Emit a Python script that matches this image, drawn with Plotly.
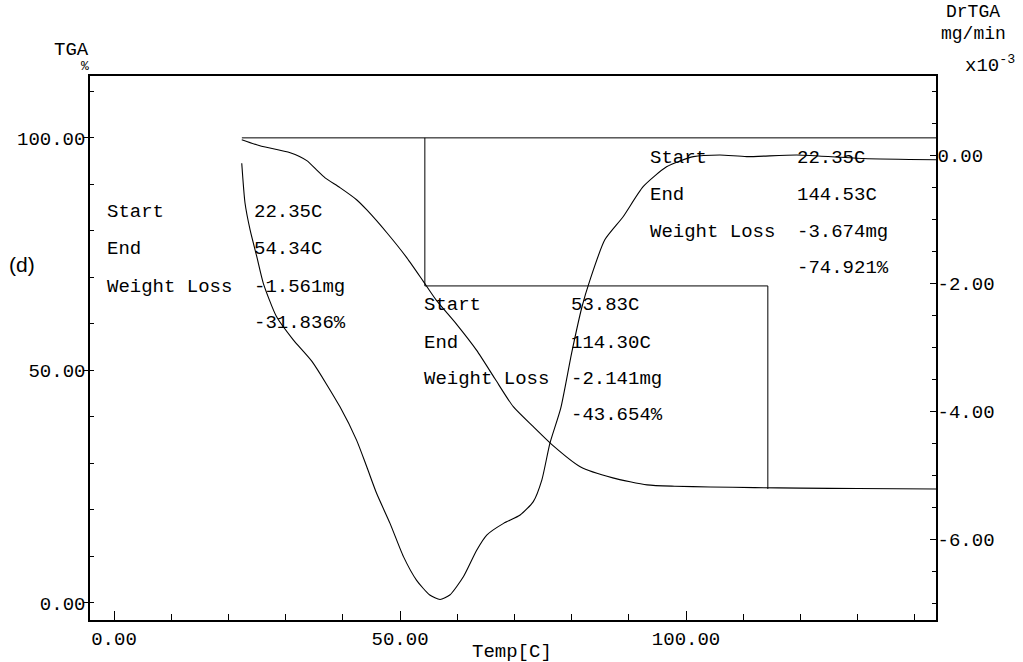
import plotly.graph_objects as go

# ---- thermogravimetric trace (TGA, % of initial mass) ----
tga_temp = [22.33, 25.5, 30.8, 33.7, 35.4, 36.9, 39.5, 42.4, 44.2, 47.7, 51.2, 54.1,
            56.4, 59.9, 63.4, 66.6, 69.8, 73.3, 76.6, 81.5, 87.2, 93.2, 98.0, 104.2,
            112.0, 120.0, 130.0, 143.7]
tga_pct = [99.6, 98.3, 96.8, 95.1, 93.1, 91.4, 89.3, 86.7, 84.5, 79.6, 74.2, 69.1,
           65.0, 59.9, 54.3, 48.2, 42.2, 37.9, 34.0, 29.3, 26.9, 25.4, 25.1, 24.95,
           24.8, 24.7, 24.6, 24.5]

# ---- derivative trace (DrTGA, mg/min x10^-3) ----
dr_temp = [22.33, 22.9, 23.8, 24.95, 26.1, 28.4, 31.3, 34.6, 39.5, 42.4, 44.2, 45.9,
           48.25, 50.6, 52.9, 55.2, 57.0, 58.7, 61.1, 63.4, 65.2, 68.1, 71.0, 73.3,
           74.8, 76.2, 78.1, 80.0, 81.8, 83.2, 85.8, 89.0, 92.5, 96.6, 101.3, 105.9,
           110.6, 119.4, 131.0, 143.7]
dr_val = [-0.125, -0.745, -1.17, -1.58, -2.0, -2.52, -2.88, -3.22, -3.93, -4.45, -4.87,
          -5.28, -5.75, -6.27, -6.64, -6.87, -6.94, -6.87, -6.58, -6.17, -5.93, -5.75,
          -5.62, -5.41, -5.07, -4.5, -3.95, -3.09, -2.37, -1.95, -1.32, -0.96, -0.49,
          -0.18, -0.02, 0.005, -0.02, 0.005, -0.05, -0.07]

# ---- weight-loss steps ----
step1_start, step1_end, step1_loss_mg, step1_loss_pct = 22.35, 54.34, -1.561, -31.836
step2_start, step2_end, step2_loss_mg, step2_loss_pct = 53.83, 114.30, -2.141, -43.654
total_start, total_end, total_loss_mg, total_loss_pct = 22.35, 144.53, -3.674, -74.921

# axis ticks
x_ticks = [0, 50, 100]
x_tick_text = ["0.00", "50.00", "100.00"]
y_ticks = [0, 50, 100]
y_tick_text = ["0.00", "50.00", "100.00"]
y2_ticks = [0, -2, -4, -6]
y2_tick_text = ["0.00", "-2.00", "-4.00", "-6.00"]

X_RANGE = [-4.2, 143.7]
Y_RANGE = [-3.66, 113.3]
Y2_RANGE = [-7.26, 1.239]

MONO = "Liberation Mono, Courier New, monospace"
FS = 19
INK = "#000000"

level0 = 100.0
level1 = level0 + step1_loss_pct
level2 = level1 + step2_loss_pct

fig = go.Figure()

# step construction lines
fig.add_trace(go.Scatter(
    x=[step1_start, total_end, None, step1_end, step1_end, step2_end, step2_end],
    y=[level0, level0, None, level0, level1, level1, level2],
    mode="lines", line=dict(color=INK, width=1), hoverinfo="skip",
    showlegend=False, cliponaxis=True,
))

fig.add_trace(go.Scatter(
    x=tga_temp, y=tga_pct, mode="lines",
    line=dict(color=INK, width=1.1, shape="spline", smoothing=0.6),
    showlegend=False, name="TGA",
))

fig.add_trace(go.Scatter(
    x=dr_temp, y=dr_val, mode="lines", yaxis="y2",
    line=dict(color=INK, width=1.1, shape="spline", smoothing=0.6),
    showlegend=False, name="DrTGA",
))

# result tables: (label column x, value column x, row y positions)
blocks = [
    (-1.6, 24.07, [84.15, 76.13, 68.02, 60.2],
     [f"{step1_start:.2f}C", f"{step1_end:.2f}C", f"{step1_loss_mg:.3f}mg", f"{step1_loss_pct:.3f}%"]),
    (53.8, 79.6, [64.09, 55.98, 48.17, 40.43],
     [f"{step2_start:.2f}C", f"{step2_end:.2f}C", f"{step2_loss_mg:.3f}mg", f"{step2_loss_pct:.3f}%"]),
    (93.4, 119.06, [95.63, 87.74, 79.85, 71.98],
     [f"{total_start:.2f}C", f"{total_end:.2f}C", f"{total_loss_mg:.3f}mg", f"{total_loss_pct:.3f}%"]),
]
row_labels = ["Start", "End", "Weight Loss", ""]

annotations = []
for lx, vx, ys, vals in blocks:
    for lab, val, yy in zip(row_labels, vals, ys):
        if lab:
            annotations.append(dict(x=lx, y=yy, xref="x", yref="y", text=lab,
                                    showarrow=False, xanchor="left", yanchor="middle",
                                    font=dict(family=MONO, size=FS, color=INK)))
        annotations.append(dict(x=vx, y=yy, xref="x", yref="y", text=val,
                                showarrow=False, xanchor="left", yanchor="middle",
                                font=dict(family=MONO, size=FS, color=INK)))

def paper_text(x, y, text, size=FS, family=MONO, xanchor="center"):
    annotations.append(dict(x=x, y=y, xref="paper", yref="paper", text=text,
                            showarrow=False, xanchor=xanchor, yanchor="middle",
                            font=dict(family=family, size=size, color=INK)))

paper_text(-0.0213, 1.048, "TGA")
paper_text(-0.006, 1.018, "%", size=13)
paper_text(1.044, 1.118, "DrTGA", size=18)
paper_text(1.044, 1.077, "mg/min", size=18)
paper_text(1.064, 1.022, "x10<sup>-3</sup>")
paper_text(0.499, -0.0588, "Temp[C]")
paper_text(-0.080, 0.6526, "(d)", size=21, family="Liberation Sans, Arial, sans-serif")

axis_line = dict(showline=True, linecolor=INK, linewidth=1.5, showgrid=False, zeroline=False)

fig.update_layout(
    width=1023, height=662,
    margin=dict(l=90, r=87, t=76, b=42),
    paper_bgcolor="white", plot_bgcolor="white",
    showlegend=False,
    annotations=annotations,
    xaxis=dict(range=X_RANGE, tickmode="array", tickvals=x_ticks, ticktext=x_tick_text,
               ticks="inside", ticklen=9, tickcolor=INK, tickwidth=1, mirror=True,
               minor=dict(tickmode="linear", tick0=0, dtick=10, ticks="inside",
                          ticklen=6, tickcolor=INK, tickwidth=1),
               tickfont=dict(family=MONO, size=FS, color=INK), **axis_line),
    yaxis=dict(range=Y_RANGE, tickmode="array", tickvals=y_ticks, ticktext=y_tick_text,
               ticks="outside", ticklen=5, tickcolor=INK, tickwidth=1,
               ticklabelstandoff=-6,
               minor=dict(tickmode="linear", tick0=0, dtick=10, ticks="inside",
                          ticklen=4, tickcolor=INK, tickwidth=1),
               tickfont=dict(family=MONO, size=FS, color=INK), **axis_line),
    yaxis2=dict(range=Y2_RANGE, overlaying="y", side="right", anchor="x",
                tickmode="array", tickvals=y2_ticks, ticktext=y2_tick_text,
                ticks="inside", ticklen=6, tickcolor=INK, tickwidth=1,
                ticklabelstandoff=-4,
                minor=dict(tickmode="linear", tick0=0, dtick=0.5, ticks="inside",
                           ticklen=4, tickcolor=INK, tickwidth=1),
                tickfont=dict(family=MONO, size=FS, color=INK), **axis_line),
)

fig.write_html("out.html")
